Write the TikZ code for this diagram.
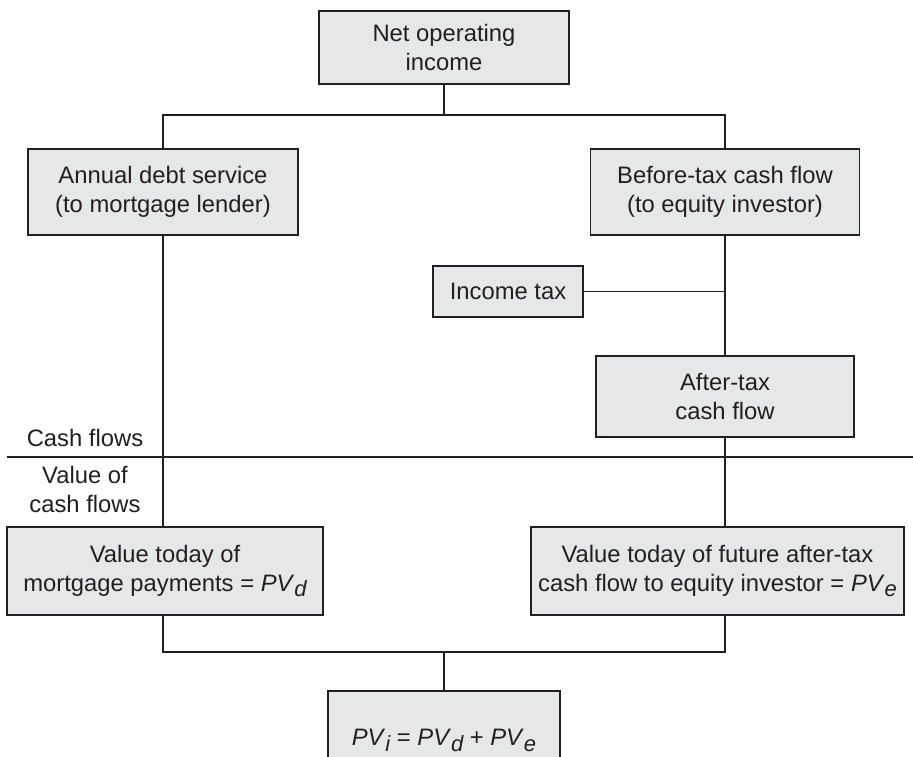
\documentclass[tikz,border=0pt]{standalone}
\usepackage{fontspec}
\setmainfont{Liberation Sans}
\definecolor{boxfill}{HTML}{E6E7E8}
\definecolor{ink}{HTML}{231F20}
\newcommand\sbx[1]{\raisebox{-0.45ex}{\fontsize{22}{22}\selectfont\itshape #1}}
\begin{document}
\begin{tikzpicture}[x=1pt,y=-1pt,
  every node/.style={text=ink,font=\fontsize{23.8}{29}\selectfont},
  box/.style={draw=ink,fill=boxfill,line width=1.4pt,align=center,inner sep=0pt},
  conn/.style={draw=ink,line width=1.4pt}]
\useasboundingbox (0,0) rectangle (913,756);
\node[box,minimum width=250pt,minimum height=73pt] (noi) at (444,47.5) {Net operating\\income};
\node[box,minimum width=270pt,minimum height=86pt] (ads) at (163,192) {Annual debt service\\(to mortgage lender)};
\node[box,minimum width=269pt,minimum height=86pt] (btcf) at (725,192) {Before-tax cash flow\\(to equity investor)};
\node[box,minimum width=150pt,minimum height=51pt] (itax) at (508,291.5) {Income tax};
\node[box,minimum width=258pt,minimum height=81pt] (atcf) at (725,396.5) {After-tax\\cash flow};
\node[box,minimum width=316pt,minimum height=88pt] (vm) at (165,571) {Value today of\\mortgage payments = \textit{PV}\sbx{d}};
\node[box,minimum width=373pt,minimum height=88pt] (ve) at (717.5,571) {Value today of future after-tax\\cash flow to equity investor = \textit{PV}\sbx{e}};
\node[box,minimum width=232pt,minimum height=92pt,text depth=0pt] (pvi) at (444,737) {\raisebox{-1pt}{\textit{PV}\sbx{i} = \textit{PV}\sbx{d} + \textit{PV}\sbx{e}}};
\node (cf) at (85,438) {Cash flows};
\node[align=center] (vcf) at (85,489) {Value of\\cash flows};
\coordinate (top) at (444,115);
\coordinate (bot) at (444,652);
\coordinate (dl) at (7,457);
\coordinate (dr) at (913,457);
\draw[conn] (noi.south) -- (top);
\draw[conn] (ads.north) |- (top) -| (btcf.north);
\draw[conn] (ads.south) -- (ads.south |- vm.north);
\draw[conn] (btcf.south) -- (atcf.north);
\draw[conn] (itax.east) -- (itax.east -| btcf.south);
\draw[conn] (atcf.south) -- (atcf.south |- ve.north);
\draw[conn] (ads.south |- vm.south) |- (bot) -| (atcf.south |- ve.south);
\draw[conn] (bot) -- (pvi.north);
\draw[conn] (dl) -- (dr);
\end{tikzpicture}
\end{document}
